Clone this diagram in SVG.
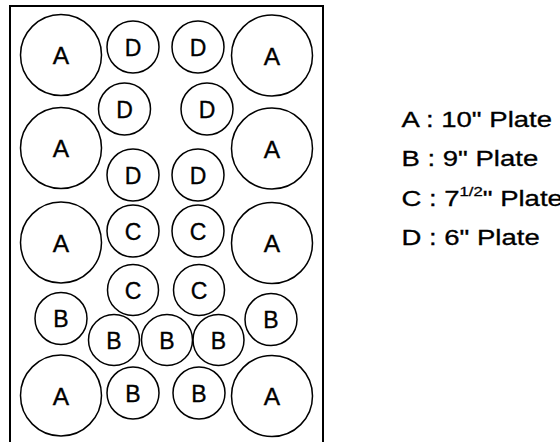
<svg xmlns="http://www.w3.org/2000/svg" width="560" height="442" viewBox="0 0 560 442">
<style>
.frame{fill:none;stroke:#000;stroke-width:2}
circle{fill:none;stroke:#000;stroke-width:1.5}
.lbl{font-family:"Liberation Sans",Arial,sans-serif;font-size:23px;text-anchor:middle;fill:#000;stroke:#000;stroke-width:0.35}
.big{font-size:24.5px}
.leg{font-family:"Liberation Sans",Arial,sans-serif;font-size:21.5px;fill:#000;stroke:#000;stroke-width:0.3}
</style>
<rect class="frame" x="10" y="6" width="313" height="445"/>
<g id="nodes">
<g id="a1"><circle cx="61" cy="55" r="40.5"/><text class="lbl big" x="61" y="64">A</text></g>
<g id="d1"><circle cx="133" cy="47" r="26"/><text class="lbl" x="133" y="55.5">D</text></g>
<g id="d2"><circle cx="198" cy="47" r="26"/><text class="lbl" x="198" y="55.5">D</text></g>
<g id="a2"><circle cx="272" cy="55.5" r="40.5"/><text class="lbl big" x="272" y="64.5">A</text></g>
<g id="d3"><circle cx="124.5" cy="109" r="26"/><text class="lbl" x="124.5" y="117.5">D</text></g>
<g id="d4"><circle cx="207" cy="109" r="26"/><text class="lbl" x="207" y="117.5">D</text></g>
<g id="a3"><circle cx="61" cy="148" r="40.5"/><text class="lbl big" x="61" y="157">A</text></g>
<g id="a4"><circle cx="272" cy="148.5" r="40.5"/><text class="lbl big" x="272" y="157.5">A</text></g>
<g id="d5"><circle cx="133" cy="175" r="26"/><text class="lbl" x="133" y="183.5">D</text></g>
<g id="d6"><circle cx="198" cy="175" r="26"/><text class="lbl" x="198" y="183.5">D</text></g>
<g id="c1"><circle cx="133" cy="231" r="26"/><text class="lbl" x="133" y="239.5">C</text></g>
<g id="c2"><circle cx="198" cy="231" r="26"/><text class="lbl" x="198" y="239.5">C</text></g>
<g id="a5"><circle cx="61" cy="242.5" r="40.5"/><text class="lbl big" x="61" y="251.5">A</text></g>
<g id="a6"><circle cx="272" cy="243" r="40.5"/><text class="lbl big" x="272" y="252">A</text></g>
<g id="c3"><circle cx="133" cy="290" r="25.5"/><text class="lbl" x="133" y="298.5">C</text></g>
<g id="c4"><circle cx="199" cy="290" r="25.5"/><text class="lbl" x="199" y="298.5">C</text></g>
<g id="b1"><circle cx="61" cy="318.5" r="26"/><text class="lbl" x="61" y="327">B</text></g>
<g id="b2"><circle cx="271" cy="319.5" r="26"/><text class="lbl" x="271" y="328">B</text></g>
<g id="b3"><circle cx="114" cy="340" r="25.5"/><text class="lbl" x="114" y="348.5">B</text></g>
<g id="b4"><circle cx="167" cy="340" r="25.5"/><text class="lbl" x="167" y="348.5">B</text></g>
<g id="b5"><circle cx="218.5" cy="340" r="25.5"/><text class="lbl" x="218.5" y="348.5">B</text></g>
<g id="a7"><circle cx="61" cy="395.5" r="40.5"/><text class="lbl big" x="61" y="404.5">A</text></g>
<g id="b6"><circle cx="133" cy="393" r="26"/><text class="lbl" x="133" y="401.5">B</text></g>
<g id="b7"><circle cx="199" cy="393" r="26"/><text class="lbl" x="199" y="401.5">B</text></g>
<g id="a8"><circle cx="272" cy="396" r="40.5"/><text class="lbl big" x="272" y="405">A</text></g>
</g>
<g id="legend" transform="translate(401.5,0) scale(1.28,1)">
<text class="leg" x="0" y="127">A : 10" Plate</text>
<text class="leg" x="0" y="166.5">B : 9" Plate</text>
<text class="leg" x="0" y="206">C : 7<tspan font-size="13" dy="-10">1/2</tspan><tspan dy="10">" Plate</tspan></text>
<text class="leg" x="0" y="245.5">D : 6" Plate</text>
</g>
<g id="connectors"/>
</svg>
